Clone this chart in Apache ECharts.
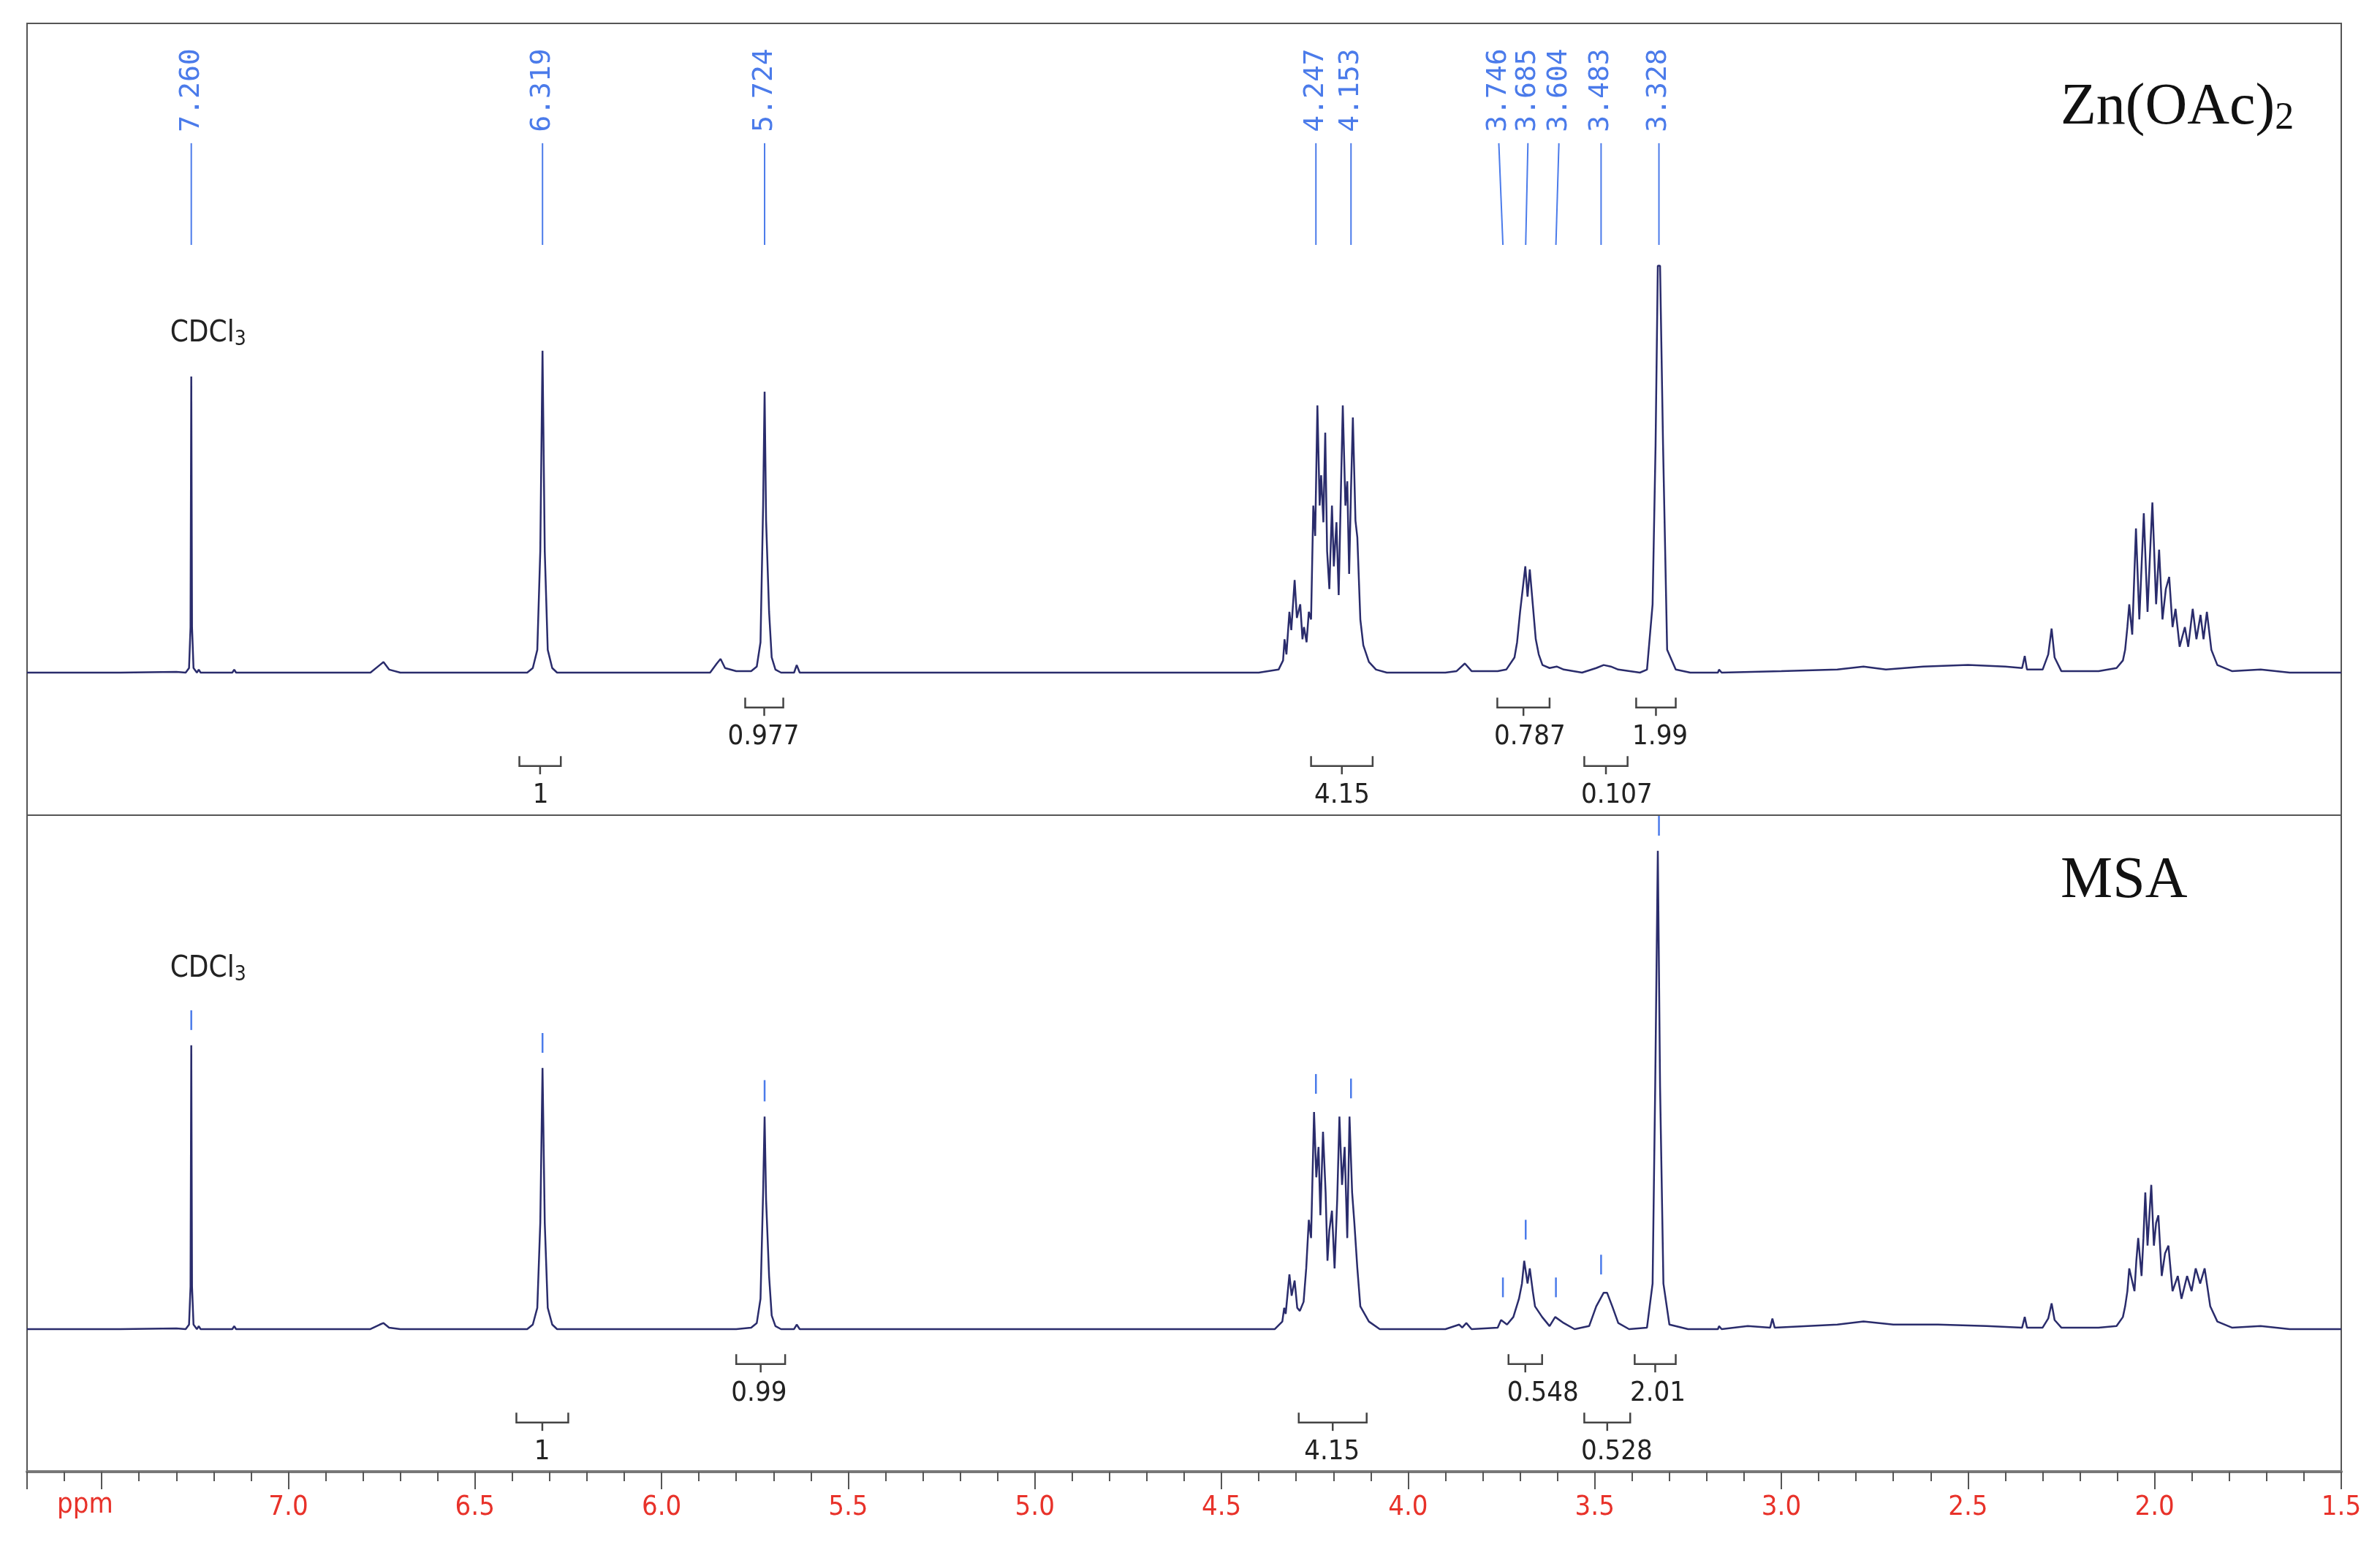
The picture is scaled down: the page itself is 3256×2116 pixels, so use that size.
<!DOCTYPE html>
<html><head><meta charset="utf-8">
<script src="https://cdn.jsdelivr.net/npm/echarts@6/dist/echarts.min.js"></script>
<style>html,body{margin:0;padding:0;background:#fff}#c{width:3256px;height:2116px}</style>
</head><body><div id="c"></div>
<script>
// ---- data (ppm, intensity) ----
const znTrace = [
[7.70,0],[7.45,0],[7.30,0.5],[7.275,0],[7.266,3],[7.262,30],[7.260,195],[7.258,30],[7.254,3],[7.245,0],[7.24,2],[7.235,0],[7.15,0],[7.145,2],[7.14,0],
[6.78,0],[6.755,5],[6.745,7],[6.73,2],[6.70,0],[6.50,0],
[6.36,0],[6.345,3],[6.333,15],[6.325,80],[6.319,212],[6.313,80],[6.305,15],[6.293,3],[6.28,0],[6.10,0],
[5.87,0],[5.852,6],[5.842,9],[5.83,3],[5.80,1],[5.76,1],[5.745,4],[5.735,20],[5.728,110],[5.724,185],[5.720,100],[5.712,40],[5.705,10],[5.695,2],[5.68,0],[5.645,0],[5.638,5],[5.63,0],[5.40,0],
[4.40,0],[4.347,2],[4.335,8],[4.331,22],[4.326,12],[4.318,40],[4.313,28],[4.304,61],[4.298,36],[4.289,45],[4.283,22],[4.279,30],[4.272,20],[4.266,40],[4.260,35],[4.254,110],[4.249,90],[4.243,176],[4.237,110],[4.233,130],[4.227,99],[4.222,158],[4.217,80],[4.211,55],[4.204,110],[4.199,70],[4.192,99],[4.186,51],[4.180,120],[4.175,176],[4.168,110],[4.163,126],[4.158,65],[4.153,120],[4.148,168],[4.141,100],[4.136,89],[4.128,35],[4.120,18],[4.105,7],[4.086,2],[4.057,0],
[3.90,0],[3.87,1],[3.848,6],[3.83,1],[3.76,1],[3.737,2],[3.715,10],[3.708,20],[3.700,40],[3.693,55],[3.686,70],[3.680,50],[3.674,68],[3.666,45],[3.658,22],[3.650,12],[3.640,5],[3.621,3],[3.602,4],[3.583,2],[3.534,0],
[3.496,3],[3.476,5],[3.457,4],[3.437,2],[3.379,0],[3.36,2],[3.345,45],[3.337,150],[3.331,268],[3.325,268],[3.317,150],[3.306,15],[3.283,2],[3.244,0],
[3.17,0],[3.167,2],[3.16,0],[3.0,1],[2.85,2],[2.78,4],[2.72,2],[2.62,4],[2.50,5],[2.40,4],[2.355,3],[2.348,11],[2.342,2],[2.30,2],[2.285,12],[2.276,29],[2.268,10],[2.25,1],[2.15,1],
[2.102,3],[2.085,8],[2.079,15],[2.073,30],[2.068,45],[2.060,25],[2.055,60],[2.050,95],[2.041,35],[2.035,70],[2.029,105],[2.019,40],[2.012,80],[2.006,112],[1.996,45],[1.988,81],[1.979,35],[1.970,55],[1.961,63],[1.952,30],[1.944,42],[1.933,17],[1.919,30],[1.910,17],[1.898,42],[1.888,22],[1.877,38],[1.869,22],[1.860,40],[1.848,15],[1.832,5],[1.793,1],[1.716,2],[1.638,0],[1.50,0]
];
const msaTrace = [
[7.70,0],[7.45,0],[7.30,0.5],[7.275,0],[7.266,3],[7.262,28],[7.260,187],[7.258,28],[7.254,3],[7.245,0],[7.24,2],[7.235,0],[7.15,0],[7.145,2],[7.14,0],
[6.78,0],[6.755,3],[6.745,4],[6.73,1],[6.70,0],[6.50,0],
[6.36,0],[6.345,3],[6.333,14],[6.325,70],[6.319,172],[6.313,70],[6.305,14],[6.293,3],[6.28,0],[6.10,0],
[5.80,0],[5.76,1],[5.745,4],[5.735,20],[5.728,90],[5.724,140],[5.720,85],[5.712,35],[5.705,9],[5.695,2],[5.68,0],[5.645,0],[5.638,3],[5.63,0],[5.40,0],
[4.40,0],[4.357,0],[4.337,5],[4.332,14],[4.328,10],[4.318,36],[4.312,22],[4.304,32],[4.297,14],[4.290,12],[4.280,18],[4.273,40],[4.266,72],[4.260,60],[4.252,143],[4.246,100],[4.240,120],[4.235,75],[4.228,130],[4.221,90],[4.216,45],[4.211,65],[4.204,78],[4.197,40],[4.190,85],[4.184,140],[4.177,95],[4.170,120],[4.163,60],[4.157,140],[4.150,90],[4.144,70],[4.136,40],[4.128,15],[4.105,5],[4.076,0],
[3.90,0],[3.863,3],[3.855,1],[3.844,4],[3.83,0],[3.76,1],[3.751,6],[3.735,3],[3.718,8],[3.703,20],[3.695,30],[3.689,45],[3.680,30],[3.674,40],[3.666,25],[3.660,15],[3.641,8],[3.621,2],[3.606,8],[3.583,4],[3.554,0],
[3.515,2],[3.496,15],[3.476,24],[3.467,24],[3.453,15],[3.437,4],[3.408,0],[3.36,1],[3.345,30],[3.338,160],[3.331,315],[3.325,160],[3.316,30],[3.300,3],[3.25,0],
[3.17,0],[3.167,2],[3.16,0],[3.09,2],[3.03,1],[3.024,7],[3.018,1],[2.85,3],[2.78,5],[2.70,3],[2.58,3],[2.45,2],[2.355,1],[2.348,8],[2.342,1],[2.30,1],[2.285,7],[2.276,17],[2.268,6],[2.25,1],[2.15,1],
[2.102,2],[2.085,8],[2.079,15],[2.073,25],[2.068,40],[2.054,25],[2.049,45],[2.044,60],[2.035,35],[2.030,60],[2.025,90],[2.019,55],[2.009,95],[2.002,55],[1.996,70],[1.990,75],[1.981,35],[1.972,50],[1.963,55],[1.952,25],[1.938,35],[1.928,20],[1.913,35],[1.901,25],[1.890,40],[1.878,30],[1.866,40],[1.851,15],[1.832,5],[1.793,1],[1.716,2],[1.638,0],[1.50,0]
];
// peak labels: [peak ppm, label ppm, text]
const peakLabels = [[7.260,7.260,'7.260'],[6.319,6.319,'6.319'],[5.724,5.724,'5.724'],[4.247,4.247,'4.247'],[4.153,4.153,'4.153'],[3.746,3.757,'3.746'],[3.685,3.679,'3.685'],[3.604,3.596,'3.604'],[3.483,3.483,'3.483'],[3.328,3.328,'3.328']];
// bottom panel peak marks: [ppm, low, high]
const msaMarks = [[7.260,197,210],[6.319,182,195],[5.724,150,164],[4.247,155,168],[4.153,152,165],[3.746,21,34],[3.685,59,72],[3.604,21,34],[3.483,36,49],[3.328,325,338]];
// integrals: [start ppm, end ppm, level, text ppm, text]
const znIntegrals = [[5.776,5.674,1,5.727,'0.977'],[6.381,6.270,2,6.324,'1'],[4.260,4.095,2,4.177,'4.15'],[3.761,3.621,1,3.674,'0.787'],[3.389,3.283,1,3.325,'1.99'],[3.528,3.412,2,3.441,'0.107']];
const msaIntegrals = [[5.800,5.669,1,5.739,'0.99'],[6.389,6.250,2,6.320,'1'],[4.293,4.111,2,4.204,'4.15'],[3.731,3.641,1,3.639,'0.548'],[3.393,3.283,1,3.331,'2.01'],[3.528,3.405,2,3.441,'0.528']];
const xTicks = {min:1.5, max:7.7, interval:0.5};

const BLUE='#4b7bea', NAVY='#2a2c6c', TXT='#222';
const FONT='"DejaVu Sans Condensed","DejaVu Sans",sans-serif';

function integralSeries(data, idx){
  return {type:'custom', xAxisIndex:idx, yAxisIndex:idx, clip:false, silent:true,
    data:data.map(d=>[d[0],d[1],d[2],d[3]]),
    renderItem:function(p,api){
      const d=data[p.dataIndex];
      const y0 = d[2]===1?-16.5:-55;
      const a=api.coord([d[0],y0]), b=api.coord([d[1],y0]);
      const h=api.coord([d[0],y0-6.5]);
      const m=api.coord([(d[0]+d[1])/2,y0-12]);
      const t=api.coord([d[3],y0-26]);
      const hy=h[1];
      return {type:'group',children:[
        {type:'polyline',shape:{points:[a,[a[0],hy],[b[0],hy],b]},style:{stroke:'#444',lineWidth:2.5,fill:null}},
        {type:'line',shape:{x1:m[0],y1:hy,x2:m[0],y2:m[1]},style:{stroke:'#444',lineWidth:2.5}},
        {type:'text',x:t[0],y:t[1],style:{text:d[4],fill:TXT,font:'38px '+FONT,textAlign:'center',textVerticalAlign:'middle'}}
      ]};
    }};
}

const option = {
  animation:false,
  grid:[
    {left:37,right:53,top:32,height:1083,show:true,borderColor:'#555',borderWidth:2},
    {left:37,right:53,top:1115,height:898,show:true,borderColor:'#555',borderWidth:2}
  ],
  xAxis:[
    {gridIndex:0,type:'value',inverse:true,min:xTicks.min,max:xTicks.max,interval:xTicks.interval,show:false},
    {gridIndex:1,type:'value',inverse:true,min:xTicks.min,max:xTicks.max,interval:xTicks.interval,
     splitLine:{show:false},
     axisLine:{show:true,onZero:false,lineStyle:{color:'#777',width:4}},
     axisTick:{show:true,length:24,lineStyle:{color:'#555',width:2}},
     minorTick:{show:true,splitNumber:5,length:13,lineStyle:{color:'#555',width:2}},
     axisLabel:{color:'#e8322a',fontSize:38,fontFamily:FONT,margin:30,
       formatter:v=>v>7.4?'':v.toFixed(1)}}
  ],
  yAxis:[
    {gridIndex:0,type:'value',min:-93.9,max:427.6,show:false},
    {gridIndex:1,type:'value',min:-93.9,max:338.5,show:false}
  ],
  graphic:[
    {type:'text',left:78,top:2040,style:{text:'ppm',fill:'#e8322a',font:'38px '+FONT}},
    {type:'text',left:2819,top:108,style:{text:'{a|Zn(OAc)}{b|2}',rich:{a:{font:'80px "Liberation Serif",serif',fill:'#111'},b:{font:'52px "Liberation Serif",serif',fill:'#111',padding:[28,0,0,0]}}}},
    {type:'text',left:2819,top:1166,style:{text:'MSA',fill:'#111',font:'80px "Liberation Serif",serif'}}
  ],
  series:[
    {type:'line',xAxisIndex:0,yAxisIndex:0,data:znTrace,showSymbol:false,silent:true,lineStyle:{color:NAVY,width:2.5}},
    {type:'line',xAxisIndex:1,yAxisIndex:1,data:msaTrace,showSymbol:false,silent:true,lineStyle:{color:NAVY,width:2.5}},
    {type:'custom',xAxisIndex:0,yAxisIndex:0,clip:false,silent:true,data:peakLabels.map(d=>[d[0],d[1]]),
     renderItem:function(p,api){
       const d=peakLabels[p.dataIndex];
       const lo=api.coord([d[0],281.7]), hi=api.coord([d[1],348.7]), t=api.coord([d[1],356]);
       return {type:'group',children:[
         {type:'line',shape:{x1:lo[0],y1:lo[1],x2:hi[0],y2:hi[1]},style:{stroke:BLUE,lineWidth:2}},
         {type:'text',x:t[0],y:t[1],rotation:Math.PI/2,style:{text:d[2],fill:BLUE,font:'38px "DejaVu Sans Mono",monospace',textAlign:'left',textVerticalAlign:'middle'}}
       ]};
     }},
    {type:'custom',xAxisIndex:1,yAxisIndex:1,clip:false,silent:true,data:msaMarks.map(d=>[d[0],d[1]]),
     renderItem:function(p,api){
       const d=msaMarks[p.dataIndex];
       const a=api.coord([d[0],d[1]]), b=api.coord([d[0],d[2]]);
       return {type:'line',shape:{x1:a[0],y1:a[1],x2:b[0],y2:b[1]},style:{stroke:BLUE,lineWidth:2.5}};
     }},
    {type:'custom',xAxisIndex:0,yAxisIndex:0,clip:false,silent:true,data:[[7.215,223]],
     renderItem:function(p,api){const c=api.coord([7.215,223]);
       return {type:'text',x:c[0],y:c[1],style:{text:'{a|CDCl}{b|3}',rich:{a:{font:'40px '+FONT,fill:TXT},b:{font:'28px '+FONT,fill:TXT,padding:[16,0,0,0]}},textAlign:'center',textVerticalAlign:'middle'}};}},
    {type:'custom',xAxisIndex:1,yAxisIndex:1,clip:false,silent:true,data:[[7.215,237]],
     renderItem:function(p,api){const c=api.coord([7.215,237]);
       return {type:'text',x:c[0],y:c[1],style:{text:'{a|CDCl}{b|3}',rich:{a:{font:'40px '+FONT,fill:TXT},b:{font:'28px '+FONT,fill:TXT,padding:[16,0,0,0]}},textAlign:'center',textVerticalAlign:'middle'}};}},
    integralSeries(znIntegrals,0),
    integralSeries(msaIntegrals,1)
  ]
};
echarts.init(document.getElementById('c')).setOption(option);
</script></body></html>
